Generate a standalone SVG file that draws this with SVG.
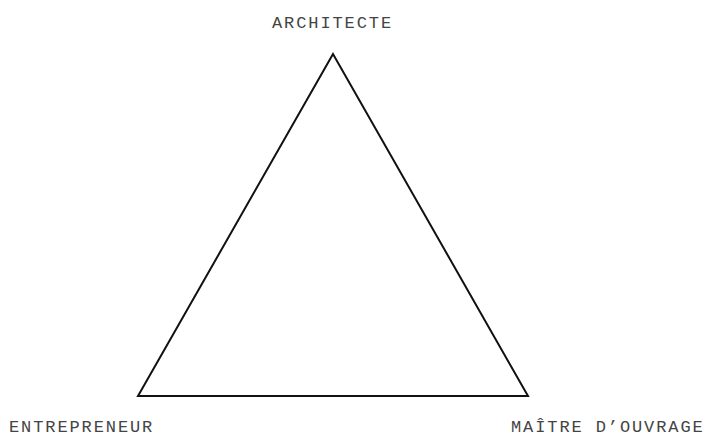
<svg xmlns="http://www.w3.org/2000/svg" width="707" height="437" viewBox="0 0 707 437">
<style>
text{font-family:"Liberation Mono","Courier New",monospace;font-size:17px;fill:#444;letter-spacing:1.9px}
.edge{fill:none;stroke:#111;stroke-width:2}
</style>
<rect width="707" height="437" fill="#fff"/>
<g id="connectors">
<polygon class="edge" points="333,54 138,396 528,396"/>
</g>
<g id="architecte"><text x="272" y="28">ARCHITECTE</text></g>
<g id="entrepreneur"><text x="9" y="432">ENTREPRENEUR</text></g>
<g id="maitre"><text x="511" y="432">MAÎTRE D’OUVRAGE</text></g>
</svg>
